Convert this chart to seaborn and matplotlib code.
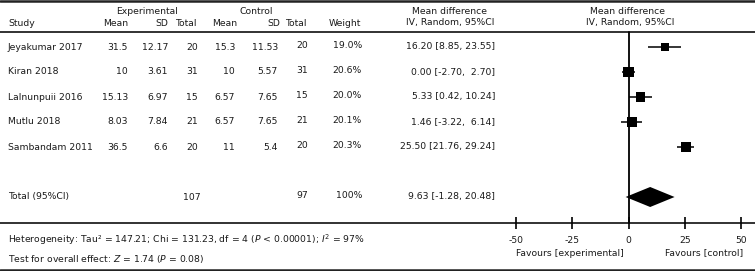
import numpy as np
import pandas as pd
import seaborn as sns
import matplotlib.pyplot as plt

# study data
studies = ["Jeyakumar 2017", "Kiran 2018", "Lalnunpuii 2016", "Mutlu 2018", "Sambandam 2011"]
exp_mean = ["31.5", "10", "15.13", "8.03", "36.5"]
exp_sd = ["12.17", "3.61", "6.97", "7.84", "6.6"]
exp_n = [20, 31, 15, 21, 20]
ctl_mean = ["15.3", "10", "6.57", "6.57", "11"]
ctl_sd = ["11.53", "5.57", "7.65", "7.65", "5.4"]
ctl_n = [20, 31, 15, 21, 20]
weight = [19.0, 20.6, 20.0, 20.1, 20.3]
md = [16.20, 0.00, 5.33, 1.46, 25.50]
ci_lo = [8.85, -2.70, 0.42, -3.22, 21.76]
ci_hi = [23.55, 2.70, 10.24, 6.14, 29.24]
ci_text = ["16.20 [8.85, 23.55]", "0.00 [-2.70,  2.70]", "5.33 [0.42, 10.24]",
           "1.46 [-3.22,  6.14]", "25.50 [21.76, 29.24]"]

# pooled
total_md, total_lo, total_hi = 9.63, -1.28, 20.48
total_exp_n, total_ctl_n = 107, 97
ticks = [-50, -25, 0, 25, 50]

sns.set_theme(style="white")
plt.rcParams['font.family'] = ['DejaVu Sans']
plt.rcParams['font.size'] = 6.7
plt.rcParams['mathtext.fontset'] = 'dejavusans'
txt = '#1a1a1a'

W, H = 755, 271
fig = plt.figure(figsize=(W / 100, H / 100), dpi=100)
ax = fig.add_axes([0, 0, 1, 1])
ax.set_xlim(0, W)
ax.set_ylim(H, 0)
ax.axis('off')

# forest axes: -50..50 maps to px 516..741
x0, x1 = 516, 741
fax = fig.add_axes([x0 / W, 0, (x1 - x0) / W, 1])
fax.set_xlim(-50, 50)
fax.set_ylim(H, 0)
fax.patch.set_alpha(0)
for s in ['top', 'left', 'right']:
    fax.spines[s].set_visible(False)
fax.spines['bottom'].set_position(('data', 223))
fax.spines['bottom'].set_visible(False)
fax.set_yticks([])
fax.set_xticks(ticks)
fax.set_xticklabels([str(t) for t in ticks], color=txt)
fax.tick_params(axis='x', bottom=True, direction='inout', length=9, width=1.2,
                color='black', pad=5, labelsize=6.7)

# horizontal rules
ax.plot([0, W], [1.2, 1.2], color='#222', lw=1.8)
ax.plot([0, W], [32, 32], color='#222', lw=1.3)
ax.plot([0, W], [223, 223], color='#222', lw=1.3)
ax.plot([0, W], [270, 270], color='#222', lw=1.8)

# header
ax.text(147, 12, "Experimental", ha='center', va='center', color=txt)
ax.text(256, 12, "Control", ha='center', va='center', color=txt)
ax.text(8, 23, "Study", ha='left', va='center', color=txt)
for x, lab in [(128, "Mean"), (168, "SD"), (197, "Total"), (237, "Mean"), (280, "SD"), (307, "Total")]:
    ax.text(x, 23, lab, ha='right', va='center', color=txt)
ax.text(345, 23, "Weight", ha='center', va='center', color=txt)
ax.text(450, 12, "Mean difference", ha='center', va='center', color=txt)
ax.text(450, 23, "IV, Random, 95%CI", ha='center', va='center', color=txt)
ax.text(628, 12, "Mean difference", ha='center', va='center', color=txt)
ax.text(630, 23, "IV, Random, 95%CI", ha='center', va='center', color=txt)

# rows
row_y = 47 + 25 * np.arange(len(studies))
for i, y in enumerate(row_y):
    ax.text(8, y, studies[i], ha='left', va='center', color=txt)
    ax.text(128, y, exp_mean[i], ha='right', va='center', color=txt)
    ax.text(168, y, exp_sd[i], ha='right', va='center', color=txt)
    ax.text(192, y, str(exp_n[i]), ha='center', va='center', color=txt)
    ax.text(235, y, ctl_mean[i], ha='right', va='center', color=txt)
    ax.text(278, y, ctl_sd[i], ha='right', va='center', color=txt)
    ax.text(302, y - 1.5, str(ctl_n[i]), ha='center', va='center', color=txt)
    ax.text(362, y - 1.5, f"{weight[i]:.1f}%", ha='right', va='center', color=txt)
    ax.text(495, y, ci_text[i], ha='right', va='center', color=txt)

ty = 197
ax.text(8, ty, "Total (95%CI)", ha='left', va='center', color=txt)
ax.text(192, ty, str(total_exp_n), ha='center', va='center', color=txt)
ax.text(302, ty - 1.5, str(total_ctl_n), ha='center', va='center', color=txt)
ax.text(362, ty - 1.5, "100%", ha='right', va='center', color=txt)
ax.text(495, ty, f"{total_md:.2f} [{total_lo:.2f}, {total_hi:.2f}]", ha='right', va='center', color=txt)

# forest marks
df = pd.DataFrame({"md": md, "y": row_y, "w": weight})
fax.hlines(row_y, ci_lo, ci_hi, color='black', lw=1.1)
sns.scatterplot(data=df, x="md", y="y", size="w", sizes=(36, 56), marker='s',
                color='black', edgecolor='black', linewidth=0, legend=False, ax=fax)
fax.fill([total_lo, total_md, total_hi, total_md], [ty, ty - 10, ty, ty + 10], color='black', lw=0)
fax.plot([0, 0], [32, 223], color='black', lw=1.3)
fax.set_xlabel("")
fax.set_ylabel("")

ax.text(x0, 253, "Favours [experimental]", ha='left', va='center', color=txt)
ax.text(x1 + 2, 253, "Favours [control]", ha='right', va='center', color=txt)

# footer
ax.text(8, 240, "Heterogeneity: Tau\u00b2 = 147.21; Chi = 131.23, df = 4 ($P$ < 0.00001); $I^2$ = 97%",
        ha='left', va='center', color=txt)
ax.text(8, 259, "Test for overall effect: $Z$ = 1.74 ($P$ = 0.08)", ha='left', va='center', color=txt)

fig.savefig("out.png", dpi=100)
